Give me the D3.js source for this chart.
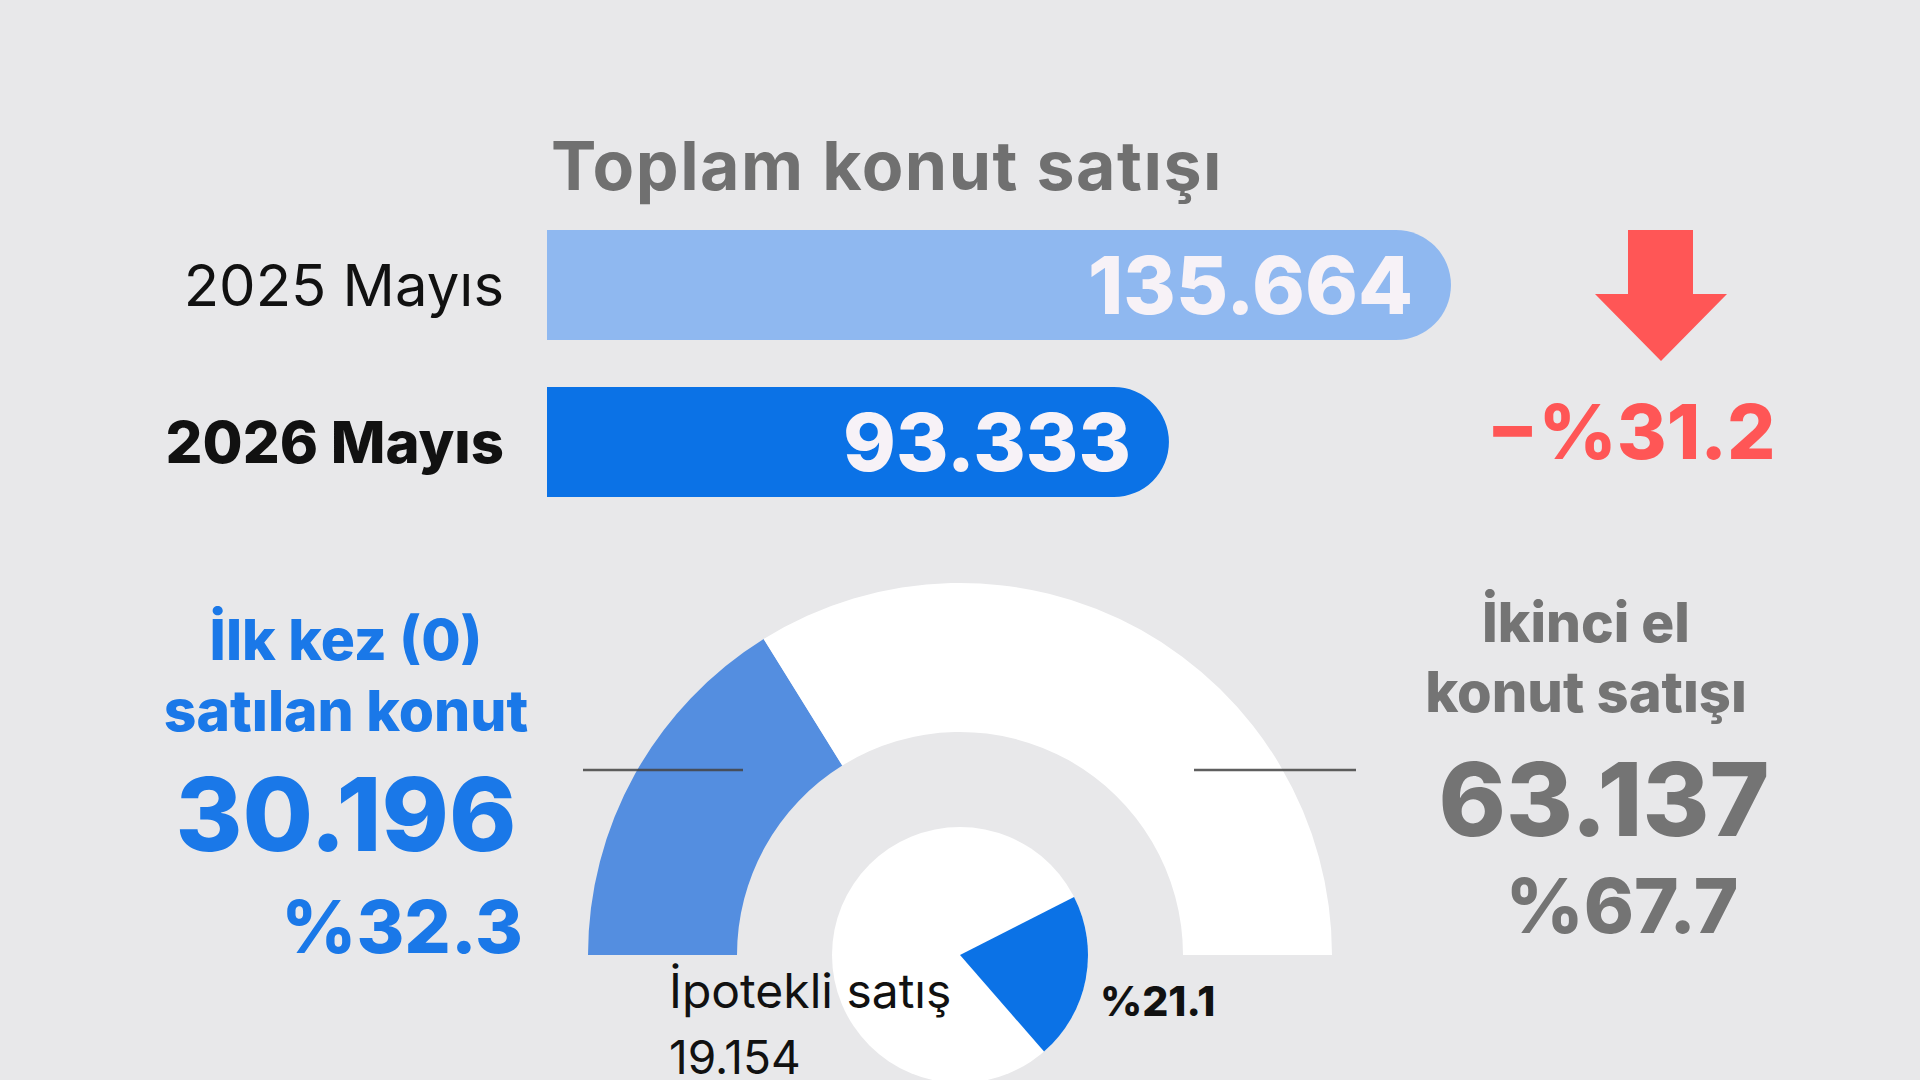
<!DOCTYPE html>
<html>
<head>
<meta charset="utf-8">
<script src="https://cdn.jsdelivr.net/npm/d3@7"></script>
<style>
  body { margin: 0; background: #e8e8ea; }
  svg { display: block; font-family: Inter, "Open Sans", sans-serif; }
</style>
</head>
<body>
<div id="canvas"></div>
<script>
// data
const periods = ["2025 Mayıs", "2026 Mayıs"];
const totals = [135664, 93333];
const totalLabels = ["135.664", "93.333"];
const changeLabel = "−%31.2";
const firstHandShare = 32.3;   // ilk kez satılan
const secondHandShare = 67.7;  // ikinci el
const mortgageShare = 21.1;    // ipotekli

const width = 1920, height = 1080;
const svg = d3.select("#canvas").append("svg").attr("width", width).attr("height", height);
svg.append("rect").attr("width", width).attr("height", height).attr("fill", "#e8e8ea");

// bars
const x = d3.scaleLinear().domain([0, totals[0]]).range([0, 904]);
const y = d3.scaleBand().domain(periods).range([230, 497]).paddingInner(0.3).paddingOuter(0);
const barColors = ["#8fb8f0", "#0b72e6"];

svg.append("text").attr("x", 551).attr("y", 190)
  .attr("font-size", 68).attr("font-weight", 700).attr("fill", "#707070")
  .attr("letter-spacing", 1.5)
  .text("Toplam konut satışı");

const bx = 547;
periods.forEach((p, i) => {
  const w = x(totals[i]), h = y.bandwidth(), top = y(p), r = h / 2;
  svg.append("path")
    .attr("d", `M${bx},${top}H${bx + w - r}A${r},${r} 0 0 1 ${bx + w - r},${top + h}H${bx}Z`)
    .attr("fill", barColors[i]);
  svg.append("text").attr("x", 504).attr("y", top + h / 2).attr("dy", "0.36em")
    .attr("text-anchor", "end").attr("font-size", 58)
    .attr("font-weight", i === 1 ? 800 : 400).attr("fill", "#111")
    .text(p);
  svg.append("text").attr("x", bx + w - 38).attr("y", top + h / 2).attr("dy", "0.36em")
    .attr("text-anchor", "end").attr("font-size", 80).attr("font-weight", 800)
    .attr("fill", "#f7f2f7").text(totalLabels[i]);
});

// arrow
svg.append("path")
  .attr("d", "M1628,230H1693V294H1727L1661,361L1595,294H1628Z")
  .attr("fill", "#ff5656");
svg.append("text").attr("x", 1631).attr("y", 459).attr("text-anchor", "middle")
  .attr("font-size", 76).attr("font-weight", 800).attr("fill", "#ff5656")
  .text(changeLabel);

// gauge
const cx = 960, cy = 955;
const g = svg.append("g").attr("transform", `translate(${cx},${cy})`);
const half = d3.pie().sort(null).startAngle(-Math.PI / 2).endAngle(Math.PI / 2);
const outerArc = d3.arc().innerRadius(223).outerRadius(372);
g.selectAll("path.outer").data(half([firstHandShare, secondHandShare])).enter()
  .append("path").attr("class", "outer")
  .attr("d", outerArc).attr("fill", (d, i) => i === 0 ? "#548ee0" : "#ffffff");

const innerArc = d3.arc().innerRadius(0).outerRadius(128);
g.append("circle").attr("r", 128).attr("fill", "#ffffff");
const start = 63 * Math.PI / 180;
const mort = d3.pie().sort(null).startAngle(start).endAngle(start + 2 * Math.PI)([mortgageShare, 100 - mortgageShare]);
g.append("path").attr("d", innerArc(mort[0])).attr("fill", "#0b72e6");

// leader lines
svg.append("line").attr("x1", 583).attr("x2", 743).attr("y1", 770).attr("y2", 770)
  .attr("stroke", "#444").attr("stroke-width", 2.5).attr("opacity", 0.85);
svg.append("line").attr("x1", 1194).attr("x2", 1356).attr("y1", 770).attr("y2", 770)
  .attr("stroke", "#444").attr("stroke-width", 2.5).attr("opacity", 0.85);

// text helper
const t = (xx, yy, s, size, weight, fill, anchor) =>
  svg.append("text").attr("x", xx).attr("y", yy).attr("font-size", size)
    .attr("font-weight", weight).attr("fill", fill).attr("text-anchor", anchor || "middle").text(s);

// left labels
const blue = "#1a78e8";
t(346, 660, "İlk kez (0)", 57, 800, blue);
t(346, 731, "satılan konut", 57, 800, blue);
t(346, 851, "30.196", 102, 800, blue);
t(523, 953, "%" + firstHandShare, 73, 800, blue, "end");

// right labels
const grey = "#747474";
t(1586, 642, "İkinci el", 55, 800, grey);
t(1586, 712, "konut satışı", 56, 800, grey);
t(1604, 836, "63.137", 102, 800, grey);
t(1622, 933, "%" + secondHandShare, 76, 800, grey);

// mortgage labels
t(669, 1008, "İpotekli satış", 48, 400, "#111", "start");
t(669, 1074, "19.154", 46, 400, "#111", "start");
t(1100, 1016, "%" + mortgageShare, 41, 800, "#111", "start");
</script>
</body>
</html>
